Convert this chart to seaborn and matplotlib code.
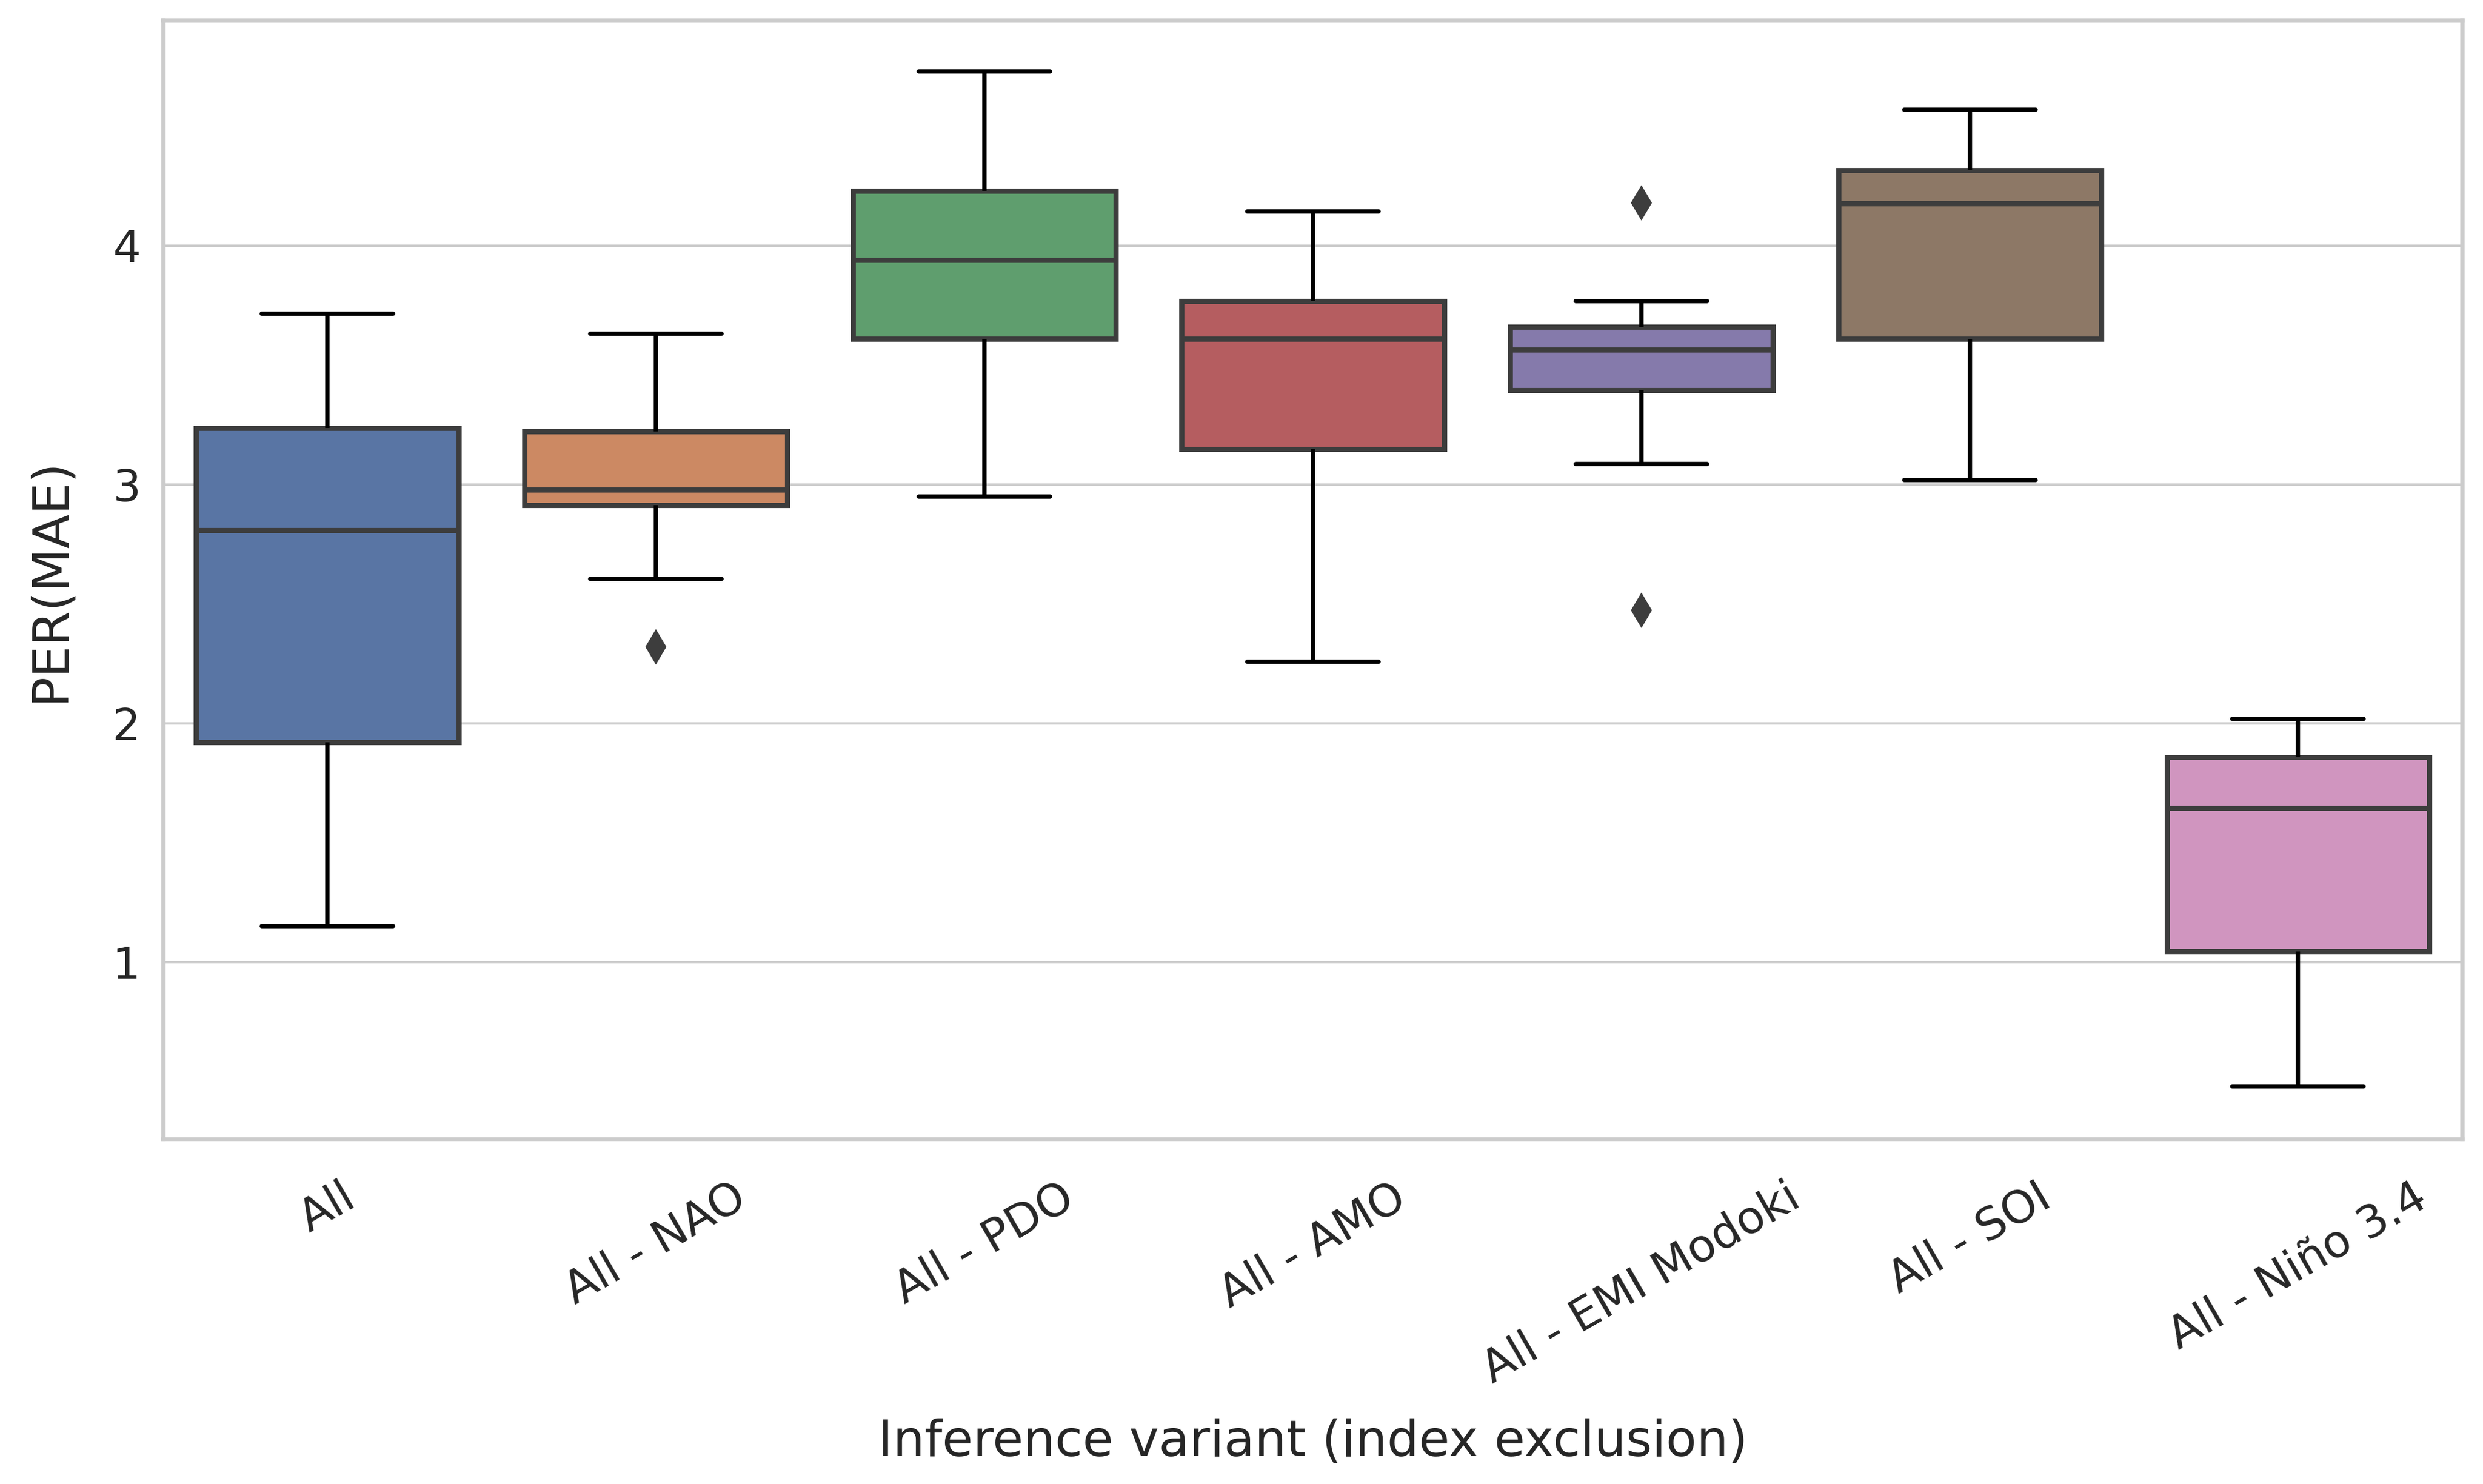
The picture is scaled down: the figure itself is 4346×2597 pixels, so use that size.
import numpy as np
import pandas as pd
import matplotlib
matplotlib.use("Agg")
import matplotlib.pyplot as plt
import seaborn as sns

categories = ["All", "All - NAO", "All - PDO", "All - AMO",
              "All - EMI Modoki", "All - SOI", "All - Niño 3.4"]

v_all   = [1.151, 1.55, 1.921, 2.40, 2.809, 3.05, 3.237, 3.50, 3.717]
v_nao   = [2.320, 2.605, 2.914, 2.95, 2.980, 3.10, 3.224, 3.40, 3.632]
v_pdo   = [2.950, 3.30, 3.610, 3.80, 3.940, 4.10, 4.230, 4.50, 4.730]
v_amo   = [2.260, 2.80, 3.150, 3.40, 3.610, 3.70, 3.770, 3.95, 4.145]
v_emi   = [2.474, 3.086, 3.395, 3.50, 3.566, 3.60, 3.660, 3.770, 4.180]
v_soi   = [3.020, 3.30, 3.610, 3.90, 4.178, 4.25, 4.316, 4.45, 4.570]
v_nino  = [0.480, 0.80, 1.046, 1.35, 1.645, 1.75, 1.860, 1.95, 2.020]

values = [v_all, v_nao, v_pdo, v_amo, v_emi, v_soi, v_nino]

df = pd.DataFrame({
    "variant": np.repeat(categories, [len(v) for v in values]),
    "per": np.concatenate(values),
})

sns.set_theme(style="whitegrid")
plt.rcParams['font.family'] = ['DejaVu Sans']

fig = plt.figure(figsize=(4346 / 300, 2597 / 300), dpi=300)
ax = fig.add_axes([0.0657, 0.232, 0.926, 0.754])

sns.boxplot(data=df, x="variant", y="per", hue="variant", order=categories,
            hue_order=categories, palette="deep", saturation=0.75,
            legend=False, ax=ax, width=0.8, linewidth=2.2, linecolor="#3d3d3d",
            whiskerprops=dict(color="black", linewidth=1.8),
            capprops=dict(color="black", linewidth=1.8),
            medianprops=dict(color="#3d3d3d", linewidth=2.2),
            flierprops=dict(marker="d", markerfacecolor="#3d3d3d",
                            markeredgecolor="#3d3d3d", markersize=9))

ax.set_yticks([1, 2, 3, 4])
ax.set_ylim(0.257, 4.943)
ax.tick_params(axis="y", labelsize=18.5)
ax.tick_params(axis="x", labelsize=19, labelrotation=30, pad=9)
ax.set_xlabel("Inference variant (index exclusion)", fontsize=21, labelpad=11)
ax.set_ylabel("PER(MAE)", fontsize=21, labelpad=16)
for s in ax.spines.values():
    s.set_color("#cccccc")
    s.set_linewidth(1.8)

fig.savefig("out.png", dpi=300)
